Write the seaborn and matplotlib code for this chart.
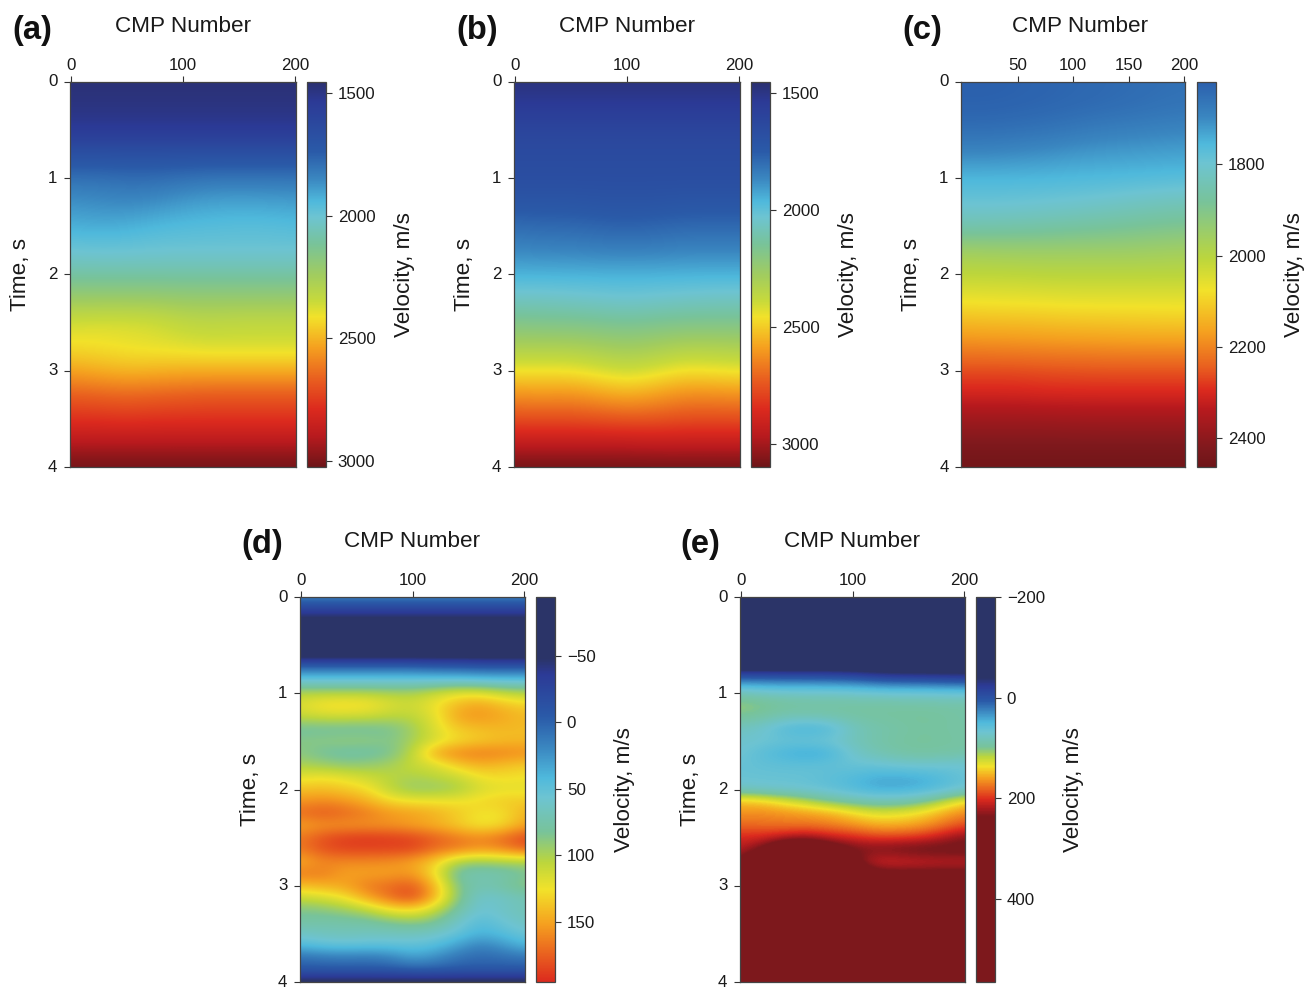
import numpy as np
import pandas as pd
import matplotlib
matplotlib.use("Agg")
import matplotlib.pyplot as plt
import seaborn as sns
from matplotlib.colors import LinearSegmentedColormap

# --- Data ---
cmp_a = [0, 25, 50, 75, 100, 125, 150, 175, 200]
time_a = [0, 0.25, 0.5, 0.75, 1, 1.25, 1.5, 1.75, 2, 2.25, 2.5, 2.75, 3, 3.25, 3.5, 3.75, 4]
vel_a = [
    [1470, 1470, 1470, 1470, 1470, 1470, 1470, 1470, 1470],
    [1490, 1490, 1490, 1490, 1490, 1490, 1490, 1490, 1490],
    [1530, 1530, 1530, 1530, 1530, 1530, 1530, 1530, 1530],
    [1680, 1680, 1680, 1680, 1680, 1680, 1680, 1680, 1680],
    [1800, 1800, 1790, 1790, 1800, 1810, 1810, 1810, 1810],
    [1870, 1860, 1850, 1860, 1885, 1900, 1905, 1900, 1895],
    [1925, 1915, 1925, 1945, 1955, 1960, 1965, 1965, 1955],
    [2000, 1995, 1995, 2000, 2000, 2000, 2000, 2000, 2000],
    [2090, 2090, 2090, 2090, 2090, 2090, 2090, 2090, 2090],
    [2225, 2225, 2225, 2225, 2215, 2215, 2215, 2215, 2215],
    [2370, 2380, 2380, 2370, 2335, 2325, 2335, 2335, 2335],
    [2420, 2415, 2400, 2390, 2380, 2370, 2370, 2370, 2370],
    [2530, 2510, 2490, 2500, 2510, 2510, 2510, 2510, 2510],
    [2670, 2660, 2650, 2660, 2670, 2680, 2680, 2680, 2680],
    [2770, 2770, 2760, 2770, 2770, 2770, 2770, 2770, 2770],
    [2900, 2900, 2900, 2900, 2900, 2900, 2900, 2900, 2900],
    [3025, 3025, 3025, 3025, 3025, 3025, 3025, 3025, 3025],
]

cmp_b = [0, 25, 50, 75, 100, 125, 150, 175, 200]
time_b = time_a
vel_b = [
    [1480, 1480, 1480, 1480, 1480, 1480, 1480, 1480, 1480],
    [1540, 1540, 1540, 1540, 1540, 1540, 1540, 1540, 1540],
    [1620, 1620, 1620, 1620, 1620, 1620, 1620, 1620, 1620],
    [1650, 1650, 1650, 1650, 1650, 1650, 1650, 1650, 1650],
    [1670, 1670, 1670, 1670, 1670, 1670, 1670, 1670, 1670],
    [1720, 1720, 1720, 1710, 1710, 1710, 1720, 1720, 1720],
    [1800, 1790, 1790, 1780, 1770, 1780, 1790, 1790, 1790],
    [1870, 1860, 1860, 1850, 1850, 1850, 1860, 1860, 1860],
    [1950, 1950, 1950, 1950, 1950, 1950, 1950, 1950, 1950],
    [2060, 2060, 2050, 2040, 2030, 2040, 2050, 2060, 2060],
    [2180, 2170, 2170, 2160, 2150, 2160, 2170, 2170, 2170],
    [2310, 2310, 2310, 2290, 2270, 2290, 2320, 2320, 2310],
    [2450, 2450, 2450, 2420, 2390, 2420, 2460, 2450, 2440],
    [2620, 2610, 2620, 2590, 2560, 2590, 2630, 2630, 2620],
    [2760, 2760, 2760, 2750, 2740, 2740, 2760, 2760, 2760],
    [2940, 2940, 2940, 2940, 2940, 2930, 2930, 2930, 2930],
    [3098, 3098, 3098, 3098, 3098, 3098, 3098, 3098, 3098],
]

cmp_c = [0, 25, 50, 75, 100, 125, 150, 175, 200]
time_c = time_a
vel_c = [
    [1622, 1622, 1625, 1630, 1635, 1640, 1645, 1650, 1655],
    [1625, 1625, 1628, 1632, 1637, 1642, 1648, 1655, 1660],
    [1650, 1650, 1655, 1660, 1670, 1680, 1685, 1690, 1695],
    [1700, 1700, 1705, 1710, 1718, 1722, 1725, 1728, 1730],
    [1755, 1755, 1755, 1755, 1757, 1758, 1760, 1762, 1765],
    [1790, 1788, 1790, 1795, 1800, 1808, 1818, 1828, 1835],
    [1845, 1850, 1855, 1860, 1868, 1875, 1882, 1890, 1895],
    [1960, 1955, 1950, 1950, 1950, 1950, 1950, 1955, 1960],
    [2010, 2010, 2010, 2005, 2005, 2005, 2005, 2005, 2005],
    [2065, 2062, 2060, 2058, 2055, 2055, 2055, 2055, 2055],
    [2135, 2130, 2130, 2125, 2120, 2118, 2115, 2112, 2110],
    [2200, 2198, 2195, 2192, 2190, 2188, 2185, 2185, 2185],
    [2265, 2265, 2265, 2262, 2260, 2258, 2258, 2258, 2258],
    [2305, 2305, 2305, 2300, 2300, 2300, 2300, 2300, 2300],
    [2375, 2375, 2375, 2375, 2372, 2370, 2370, 2370, 2370],
    [2420, 2420, 2420, 2420, 2420, 2420, 2420, 2420, 2420],
    [2455, 2455, 2455, 2455, 2455, 2455, 2455, 2455, 2455],
]

cmp_d = [0, 20, 40, 60, 80, 100, 120, 140, 160, 180, 200]
time_d = [i * 0.125 for i in range(33)]
vel_d = [
    [20, 20, 20, 20, 20, 20, 20, 20, 20, 20, 20],
    [-25, -25, -25, -25, -25, -25, -25, -25, -25, -25, -25],
    [-55, -55, -55, -55, -55, -55, -55, -55, -55, -55, -55],
    [-70, -70, -70, -70, -70, -70, -70, -70, -70, -70, -70],
    [-70, -70, -70, -70, -70, -70, -70, -70, -70, -70, -70],
    [-60, -60, -60, -60, -60, -60, -60, -60, -60, -60, -60],
    [10, 10, 10, 10, 10, 10, 5, 5, 0, 0, 0],
    [55, 55, 55, 55, 55, 55, 55, 55, 52, 50, 50],
    [102, 102, 102, 102, 100, 100, 110, 120, 120, 108, 102],
    [118, 130, 132, 130, 118, 112, 125, 142, 150, 140, 132],
    [108, 112, 112, 110, 105, 105, 120, 150, 155, 148, 142],
    [78, 78, 78, 78, 82, 95, 118, 135, 140, 142, 140],
    [88, 90, 92, 92, 86, 98, 115, 128, 135, 140, 142],
    [88, 80, 76, 76, 82, 105, 150, 162, 165, 162, 158],
    [100, 95, 90, 92, 98, 110, 115, 135, 145, 140, 135],
    [120, 125, 120, 112, 105, 100, 105, 110, 125, 128, 125],
    [138, 140, 135, 128, 105, 92, 92, 98, 115, 120, 120],
    [155, 160, 155, 145, 130, 125, 125, 125, 130, 135, 135],
    [170, 178, 172, 165, 155, 152, 145, 135, 125, 125, 145],
    [150, 155, 155, 155, 155, 150, 145, 135, 122, 128, 150],
    [165, 180, 188, 190, 188, 185, 175, 165, 160, 170, 185],
    [165, 180, 185, 185, 185, 185, 170, 165, 155, 160, 175],
    [145, 160, 160, 160, 158, 150, 135, 100, 95, 100, 100],
    [165, 165, 150, 150, 150, 155, 125, 75, 70, 72, 82],
    [140, 145, 150, 165, 170, 178, 145, 85, 72, 78, 92],
    [110, 115, 125, 150, 170, 185, 145, 90, 58, 62, 70],
    [85, 88, 95, 105, 125, 130, 110, 78, 55, 62, 70],
    [78, 76, 76, 78, 85, 92, 85, 62, 45, 55, 65],
    [62, 66, 68, 66, 66, 66, 62, 52, 38, 45, 55],
    [42, 48, 50, 48, 48, 50, 45, 30, 15, 25, 40],
    [5, 10, 12, 10, 15, 30, 22, 8, 3, 5, 8],
    [-5, -5, -5, -5, -5, -2, -2, -5, -5, -5, -5],
    [-60, -60, -60, -60, -60, -60, -60, -60, -60, -60, -60],
]

cmp_e = cmp_d
time_e = time_d
vel_e = [
    [-150, -150, -150, -150, -150, -150, -150, -150, -150, -150, -150],
    [-150, -150, -150, -150, -150, -150, -150, -150, -150, -150, -150],
    [-150, -150, -150, -150, -150, -150, -150, -150, -150, -150, -150],
    [-150, -150, -150, -150, -150, -150, -150, -150, -150, -150, -150],
    [-150, -150, -150, -150, -150, -150, -150, -150, -150, -150, -150],
    [-150, -150, -150, -150, -150, -150, -150, -150, -150, -150, -150],
    [-45, -45, -45, -45, -45, -50, -55, -60, -60, -60, -60],
    [20, 20, 18, 18, 16, 15, 5, 2, 0, -3, -5],
    [85, 78, 75, 75, 75, 72, 70, 68, 68, 66, 65],
    [108, 104, 98, 96, 95, 95, 95, 94, 93, 92, 92],
    [100, 94, 85, 85, 88, 92, 95, 96, 98, 96, 92],
    [78, 70, 52, 44, 52, 78, 88, 92, 96, 95, 93],
    [72, 70, 66, 68, 70, 82, 90, 95, 98, 96, 94],
    [70, 56, 46, 38, 46, 72, 85, 92, 95, 94, 92],
    [65, 62, 60, 60, 62, 65, 66, 70, 72, 70, 68],
    [65, 65, 65, 64, 58, 52, 44, 42, 45, 52, 65],
    [75, 70, 68, 65, 60, 52, 42, 42, 45, 55, 68],
    [150, 145, 130, 115, 100, 90, 85, 85, 95, 115, 140],
    [165, 168, 165, 162, 155, 142, 130, 132, 140, 155, 170],
    [180, 178, 175, 175, 172, 165, 155, 155, 160, 175, 190],
    [205, 205, 215, 225, 210, 205, 195, 195, 200, 215, 235],
    [215, 240, 300, 300, 270, 240, 240, 245, 250, 250, 250],
    [235, 300, 350, 350, 330, 245, 205, 205, 208, 212, 212],
    [300, 350, 350, 350, 350, 290, 250, 245, 245, 245, 245],
    [350, 350, 350, 350, 350, 320, 300, 300, 300, 300, 300],
    [350, 350, 350, 350, 350, 350, 350, 350, 350, 350, 350],
    [350, 350, 350, 350, 350, 350, 350, 350, 350, 350, 350],
    [350, 350, 350, 350, 350, 350, 350, 350, 350, 350, 350],
    [350, 350, 350, 350, 350, 350, 350, 350, 350, 350, 350],
    [350, 350, 350, 350, 350, 350, 350, 350, 350, 350, 350],
    [350, 350, 350, 350, 350, 350, 350, 350, 350, 350, 350],
    [350, 350, 350, 350, 350, 350, 350, 350, 350, 350, 350],
    [350, 350, 350, 350, 350, 350, 350, 350, 350, 350, 350],
]

time_ticks = [0, 1, 2, 3, 4]

# --- Colour maps (position on the colour bar, colour) ---
NAVY = "#2b3468"
stops_ab = [(0, "#2b3070"), (0.05, "#2c3a96"), (0.18, "#2a5aa8"), (0.25, "#3a86c0"), (0.31, "#4fb9dc"),
            (0.35, "#6dc4d2"), (0.42, "#78c39a"), (0.50, "#a0cc60"), (0.57, "#c8da3a"), (0.61, "#f2e22a"),
            (0.69, "#f5a01f"), (0.77, "#e9601f"), (0.85, "#dc2a1e"), (0.92, "#b81a1e"), (1, "#6e1518")]
stops_c = [(0, "#2b60ad"), (0.09, "#3a86c0"), (0.16, "#4fb9dc"), (0.21, "#6dc4d2"), (0.31, "#78c39a"),
           (0.46, "#bcd63c"), (0.54, "#f2e22a"), (0.65, "#f5a01f"), (0.74, "#e9601f"), (0.80, "#dc2a1e"),
           (0.85, "#b81a1e"), (0.95, "#80191d"), (1, "#6e1518")]
stops_d = [(0, NAVY), (0.16, NAVY), (0.20, "#2c3a96"), (0.31, "#2a5aa8"), (0.39, "#3a86c0"),
           (0.47, "#4fb9dc"), (0.52, "#6dc4d2"), (0.61, "#78c39a"), (0.69, "#bcd63c"), (0.76, "#f2e22a"),
           (0.85, "#f5a01f"), (0.93, "#e9601f"), (1, "#dc2a1e")]
stops_e = [(0, NAVY), (0.21, NAVY), (0.23, "#2c3a96"), (0.27, "#2a5aa8"), (0.325, "#4fb9dc"),
           (0.35, "#6dc4d2"), (0.39, "#78c39a"), (0.415, "#bcd63c"), (0.44, "#f2e22a"), (0.47, "#f5a01f"),
           (0.50, "#e9601f"), (0.525, "#dc2a1e"), (0.55, "#a81a1e"), (0.57, "#7d181c"), (1, "#7d181c")]

sns.set_theme(style="ticks")
plt.rcParams["font.family"] = ["Liberation Sans", "DejaVu Sans"]

W, H = 1311, 988
fig = plt.figure(figsize=(W / 100, H / 100), dpi=100)


def box(x0, x1, y0, y1):
    return [x0 / W, 1 - y1 / H, (x1 - x0) / W, (y1 - y0) / H]


def draw_panel(tag, tag_xy, x0, x1, cx0, cx1, y0, y1, cmps, times, vel, stops, vmin, vmax,
               xticks, cticks, label_x):
    ax = fig.add_axes(box(x0, x1, y0, y1))
    cax = fig.add_axes(box(cx0, cx1, y0, y1))
    cmap = LinearSegmentedColormap.from_list("v" + tag, stops, N=512)
    df = pd.DataFrame(vel, index=times, columns=cmps)
    sns.heatmap(df, ax=ax, cbar_ax=cax, cmap=cmap, vmin=vmin, vmax=vmax)

    # same grid again, rendered smooth on top of the cells, samples sitting on their own cmp/time
    ncols, nrows = df.shape[1], df.shape[0]
    sx = ncols / (ncols - 1)
    sy = nrows / (nrows - 1)
    ax.imshow(df.values, extent=(-sx / 2, ncols + sx / 2, nrows + sy / 2, -sy / 2), aspect="auto",
              cmap=cmap, vmin=vmin, vmax=vmax, interpolation="bicubic", interpolation_stage="data", zorder=2)
    ax.set_xlim(0, ncols)
    ax.set_ylim(nrows, 0)

    ax.xaxis.tick_top()
    ax.xaxis.set_label_position("top")
    ax.set_xticks([(1 + c / 200 * (x1 - x0 - 2)) / (x1 - x0) * ncols for c in xticks])
    ax.set_xticklabels([str(c) for c in xticks], rotation=0, fontsize=12.2)
    ax.set_yticks([t / 4 * nrows for t in time_ticks])
    ax.set_yticklabels([str(t) for t in time_ticks], rotation=0, fontsize=12.2)
    ax.tick_params(axis="both", length=4, width=0.8, color="#333333", labelcolor="#1a1a1a", pad=2.5)
    ax.tick_params(axis="y", pad=5)
    ax.set_xlabel("CMP Number", fontsize=16.2, labelpad=19, color="#1a1a1a")
    ax.xaxis.label.set_x((label_x - x0) / (x1 - x0))
    ax.set_ylabel("Time, s", fontsize=16.2, labelpad=12.5, color="#1a1a1a")
    for s in ax.spines.values():
        s.set_visible(True)
        s.set_color("#444444")
        s.set_linewidth(0.9)
        s.set_zorder(5)

    cbar = ax.collections[0].colorbar
    cax.invert_yaxis()
    cbar.set_ticks(cticks)
    cbar.ax.tick_params(length=4.5, width=0.8, color="#333333", labelsize=12.2, labelcolor="#1a1a1a", pad=4)
    cbar.set_label("Velocity, m/s", fontsize=16.2, labelpad=13, color="#1a1a1a")
    cbar.outline.set_visible(True)
    cbar.outline.set_edgecolor("#444444")
    cbar.outline.set_linewidth(0.9)

    fig.text(tag_xy[0] / W, 1 - tag_xy[1] / H, tag, fontsize=23.5, fontweight="bold",
             ha="left", va="center", color="#111111")


draw_panel("(a)", (12, 30), 70, 296, 307, 326, 82, 467, cmp_a, time_a, vel_a, stops_ab, 1455, 3025,
           [0, 100, 200], [1500, 2000, 2500, 3000], 183)
draw_panel("(b)", (456, 30), 514, 740, 751, 770, 82, 467, cmp_b, time_b, vel_b, stops_ab, 1453, 3098,
           [0, 100, 200], [1500, 2000, 2500, 3000], 627)
draw_panel("(c)", (902, 30), 961, 1185, 1197, 1216, 82, 467, cmp_c, time_c, vel_c, stops_c, 1620, 2463,
           [50, 100, 150, 200], [1800, 2000, 2200, 2400], 1080)
draw_panel("(d)", (241, 544), 300, 525, 536, 555, 597, 982, cmp_d, time_d, vel_d, stops_d, -94, 195,
           [0, 100, 200], [-50, 0, 50, 100, 150], 412)
draw_panel("(e)", (680, 544), 740, 965, 976, 995, 597, 982, cmp_e, time_e, vel_e, stops_e, -200, 566,
           [0, 100, 200], [-200, 0, 200, 400], 852)

plt.savefig("out.png", dpi=100)
